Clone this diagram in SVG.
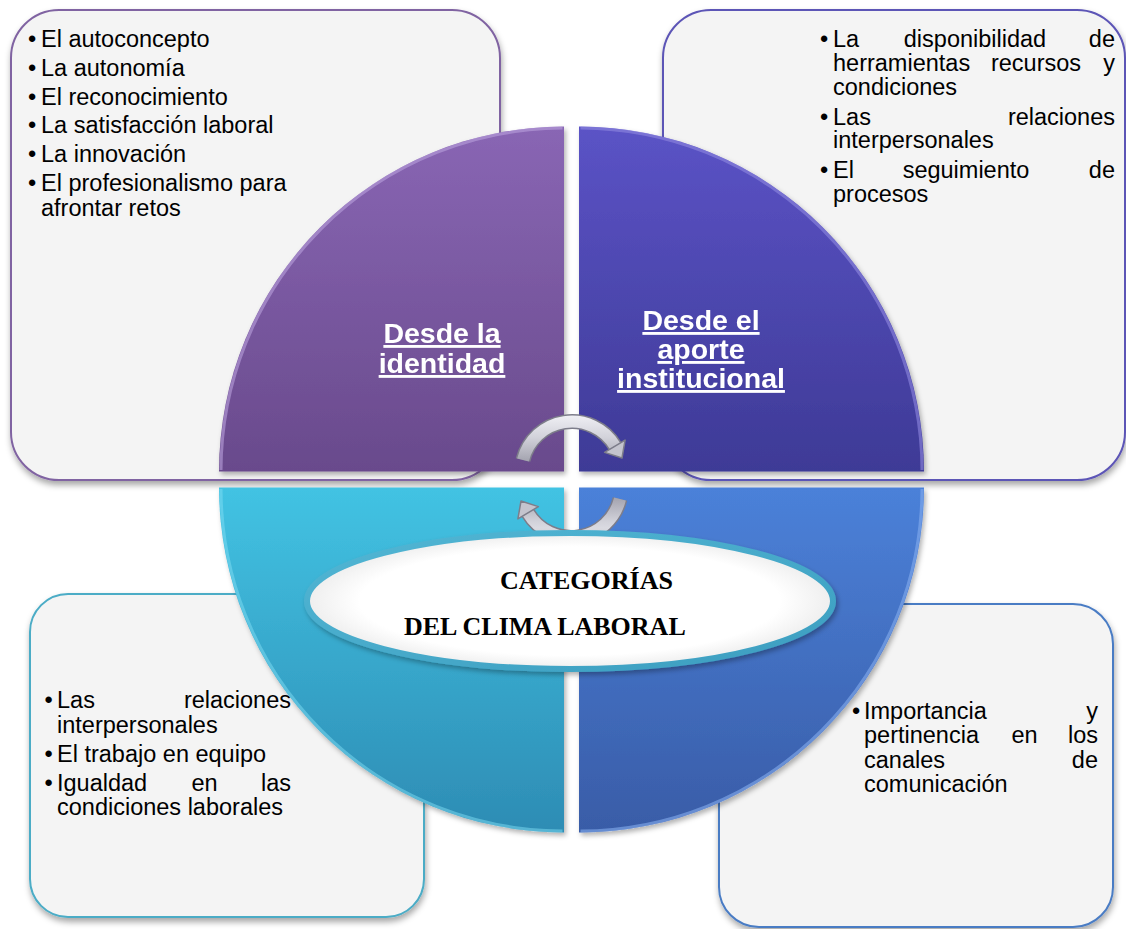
<svg xmlns="http://www.w3.org/2000/svg" width="1126" height="929" viewBox="0 0 1126 929">
  <defs>
    <style>
      .box { fill: #F4F4F4; stroke-width: 2; }
      .txt { font-family: "Liberation Sans", Arial, sans-serif; font-size: 23.5px; fill: #000; }
      .lbl { font-family: "Liberation Sans", Arial, sans-serif; font-size: 28.5px; font-weight: bold; fill: #FFF; text-anchor: middle; text-decoration: underline; }
      .title { font-family: "Liberation Serif", "Times New Roman", serif; font-size: 26px; font-weight: bold; fill: #000; }
      .end { text-anchor: end; }
      .mid { text-anchor: middle; }
    </style>
    <filter id="shadow" x="-10%" y="-10%" width="125%" height="125%">
      <feDropShadow dx="1" dy="4" stdDeviation="3" flood-color="#000" flood-opacity="0.35"/>
    </filter>
    <filter id="qshadow" x="-10%" y="-10%" width="125%" height="125%">
      <feDropShadow dx="2" dy="3" stdDeviation="2.5" flood-color="#000" flood-opacity="0.3"/>
    </filter>
    <linearGradient id="gTL" x1="0" y1="0" x2="0" y2="1">
      <stop offset="0" stop-color="#8966B4"/>
      <stop offset="1" stop-color="#694A8C"/>
    </linearGradient>
    <linearGradient id="gTR" x1="0" y1="0" x2="0" y2="1">
      <stop offset="0" stop-color="#5B53C6"/>
      <stop offset="1" stop-color="#3E3A96"/>
    </linearGradient>
    <linearGradient id="gBL" x1="0" y1="0" x2="0" y2="1">
      <stop offset="0" stop-color="#42C3E3"/>
      <stop offset="1" stop-color="#2D8CB4"/>
    </linearGradient>
    <linearGradient id="gBR" x1="0" y1="0" x2="0" y2="1">
      <stop offset="0" stop-color="#4B81D9"/>
      <stop offset="1" stop-color="#395CA7"/>
    </linearGradient>
    <linearGradient id="gArrow" gradientUnits="userSpaceOnUse" x1="0" y1="410" x2="0" y2="465">
      <stop offset="0" stop-color="#F6F6FA"/>
      <stop offset="0.5" stop-color="#D2D2DA"/>
      <stop offset="1" stop-color="#9C9CA8"/>
    </linearGradient>
    <radialGradient id="gEllipse" cx="0.5" cy="0.5" r="0.5">
      <stop offset="0.8" stop-color="#FFFFFF"/>
      <stop offset="1" stop-color="#EEEEEE"/>
    </radialGradient>
    <linearGradient id="gRim" x1="0" y1="0" x2="1" y2="1">
      <stop offset="0" stop-color="#52B6D4"/>
      <stop offset="1" stop-color="#3C9EC0"/>
    </linearGradient>
  </defs>

  <rect width="1126" height="929" fill="#FFFFFF"/>

  <!-- text boxes behind the wheel -->
  <g id="box-identidad">
    <rect class="box" x="11" y="10" width="489" height="470" rx="48" stroke="#8064A2" filter="url(#shadow)"/>
    <g class="txt">
      <text x="28" y="47">•</text><text x="41" y="47">El autoconcepto</text>
      <text x="28" y="76">•</text><text x="41" y="76">La autonomía</text>
      <text x="28" y="105">•</text><text x="41" y="105">El reconocimiento</text>
      <text x="28" y="133">•</text><text x="41" y="133">La satisfacción laboral</text>
      <text x="28" y="162">•</text><text x="41" y="162">La innovación</text>
      <text x="28" y="191">•</text><text x="41" y="191">El profesionalismo para</text>
      <text x="41" y="216">afrontar retos</text>
    </g>
  </g>

  <g id="box-aporte">
    <rect class="box" x="663" y="10" width="462" height="470" rx="48" stroke="#5C54B6" filter="url(#shadow)"/>
    <g class="txt">
      <text x="820" y="47">•</text><text x="833" y="47">La</text><text class="mid" x="975" y="47">disponibilidad</text><text class="end" x="1115" y="47">de</text>
      <text x="833" y="71">herramientas</text><text class="mid" x="1036" y="71">recursos</text><text class="end" x="1115" y="71">y</text>
      <text x="833" y="95">condiciones</text>
      <text x="820" y="125">•</text><text x="833" y="125">Las</text><text class="end" x="1115" y="125">relaciones</text>
      <text x="833" y="148">interpersonales</text>
      <text x="820" y="178">•</text><text x="833" y="178">El</text><text class="mid" x="966" y="178">seguimiento</text><text class="end" x="1115" y="178">de</text>
      <text x="833" y="202">procesos</text>
    </g>
  </g>

  <g id="box-relaciones">
    <rect class="box" x="30" y="594" width="394" height="323" rx="38" stroke="#4BACC6" filter="url(#shadow)"/>
    <g class="txt">
      <text x="44.5" y="708">•</text><text x="57" y="708">Las</text><text class="end" x="291" y="708">relaciones</text>
      <text x="57" y="733">interpersonales</text>
      <text x="44.5" y="762">•</text><text x="57" y="762">El trabajo en equipo</text>
      <text x="44.5" y="791">•</text><text x="57" y="791">Igualdad</text><text class="mid" x="204.5" y="791">en</text><text class="end" x="291" y="791">las</text>
      <text x="57" y="815">condiciones laborales</text>
    </g>
  </g>

  <g id="box-comunicacion">
    <rect class="box" x="719" y="604" width="394" height="323" rx="40" stroke="#4A7CC4" filter="url(#shadow)"/>
    <g class="txt">
      <text x="852" y="719">•</text><text x="864" y="719">Importancia</text><text class="end" x="1098" y="719">y</text>
      <text x="864" y="743">pertinencia</text><text class="mid" x="1024.5" y="743">en</text><text class="end" x="1098" y="743">los</text>
      <text x="864" y="768">canales</text><text class="end" x="1098" y="768">de</text>
      <text x="864" y="792">comunicación</text>
    </g>
  </g>

  <!-- the four quarters of the wheel -->
  <g id="q-identidad" filter="url(#qshadow)">
    <path d="M564 471.5 L219 471.5 A345 345 0 0 1 564 126.5 Z" fill="url(#gTL)"/>
    <path d="M221 470 A343 343 0 0 1 562.5 128" fill="none" stroke="#B9A0DC" stroke-opacity="0.6" stroke-width="3"/>
    <text class="lbl" x="442" y="343">Desde la</text>
    <text class="lbl" x="442" y="373">identidad</text>
  </g>

  <g id="q-aporte" filter="url(#qshadow)">
    <path d="M579 471.5 L579 126.5 A345 345 0 0 1 924 471.5 Z" fill="url(#gTR)"/>
    <path d="M580.5 128 A343 343 0 0 1 922 470" fill="none" stroke="#8F88E0" stroke-opacity="0.6" stroke-width="3"/>
    <text class="lbl" x="701" y="330">Desde el</text>
    <text class="lbl" x="701" y="359">aporte</text>
    <text class="lbl" x="701" y="388">institucional</text>
  </g>

  <g id="q-equipo" filter="url(#qshadow)">
    <path d="M564 487.5 L564 832.5 A345 345 0 0 1 219 487.5 Z" fill="url(#gBL)"/>
    <path d="M221 489 A343 343 0 0 0 562.5 831" fill="none" stroke="#7FDDF3" stroke-opacity="0.5" stroke-width="3"/>
  </g>

  <g id="q-comunicacion" filter="url(#qshadow)">
    <path d="M579 487.5 L924 487.5 A345 345 0 0 1 579 832.5 Z" fill="url(#gBR)"/>
    <path d="M922 489 A343 343 0 0 1 580.5 831" fill="none" stroke="#86AEEF" stroke-opacity="0.6" stroke-width="3"/>
  </g>

  <!-- circular arrows between the quarters -->
  <g id="connectors">
    <g id="arrow-top">
      <path d="M523 460 A50.3 50.3 0 0 1 615 446" fill="none" stroke="#7D7D8A" stroke-width="15"/>
      <path d="M523 460 A50.3 50.3 0 0 1 615 446" fill="none" stroke="url(#gArrow)" stroke-width="12"/>
      <polygon points="604.6,452.4 625.1,440.1 622,458" fill="#C4C4CE" stroke="#7D7D8A" stroke-width="1.5" stroke-linejoin="round"/>
    </g>
    <g id="arrow-bottom" transform="rotate(180 571.5 479.5)">
      <path d="M523 460 A50.3 50.3 0 0 1 615 446" fill="none" stroke="#7D7D8A" stroke-width="15"/>
      <path d="M523 460 A50.3 50.3 0 0 1 615 446" fill="none" stroke="url(#gArrow)" stroke-width="12"/>
      <polygon points="604.6,452.4 625.1,440.1 622,458" fill="#C4C4CE" stroke="#7D7D8A" stroke-width="1.5" stroke-linejoin="round"/>
    </g>
  </g>

  <!-- central title -->
  <g id="center-title">
    <ellipse cx="570" cy="601" rx="263" ry="68" fill="url(#gEllipse)" stroke="url(#gRim)" stroke-width="6" filter="url(#qshadow)"/>
    <text class="title" x="500" y="589">CATEGORÍAS</text>
    <text class="title" x="404" y="635">DEL CLIMA LABORAL</text>
  </g>
</svg>
